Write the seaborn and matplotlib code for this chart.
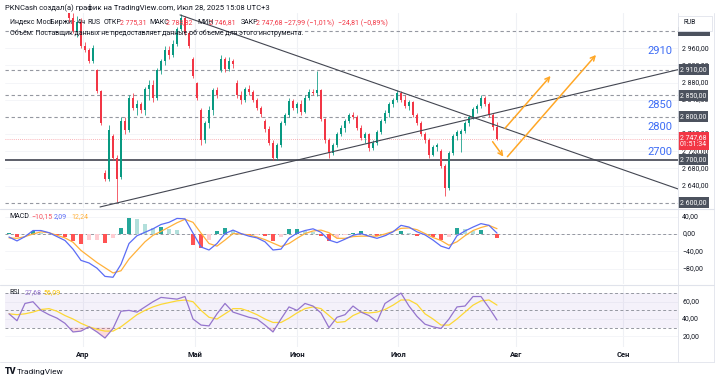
import matplotlib
matplotlib.use('Agg')
import matplotlib.pyplot as plt
import matplotlib.transforms as mtransforms
from matplotlib.patches import Rectangle
from matplotlib.lines import Line2D
import seaborn as sns
import numpy as np

# 4h candles of the MOEX index (visible part of the window)
opens = [3045, 3030, 3000, 3020, 2965, 2955, 2930, 2910, 2860, 2670,
         2655, 2755, 2705, 2660, 2790, 2770, 2845, 2820, 2830, 2815,
         2865, 2875, 2845, 2910, 2930, 2955, 2945, 2970, 3005, 3030,
         2995, 2935, 2880, 2815, 2745, 2785, 2815, 2862, 2910, 2935,
         2912, 2930, 2880, 2850, 2840, 2865, 2858, 2840, 2820, 2790,
         2772, 2740, 2705, 2735, 2785, 2805, 2838, 2820, 2830, 2812,
         2845, 2858, 2855, 2862, 2795, 2745, 2715, 2735, 2760, 2775,
         2790, 2805, 2800, 2775, 2750, 2760, 2728, 2740, 2765, 2790,
         2810, 2830, 2840, 2855, 2840, 2825, 2835, 2805, 2785, 2760,
         2745, 2712, 2730, 2720, 2685, 2635, 2715, 2755, 2760, 2768,
         2785, 2800, 2818, 2826, 2845, 2830, 2805, 2775.31]
highs = [3060, 3042, 3035, 3030, 2975, 2960, 2968, 2912, 2862, 2675,
         2780, 2760, 2712, 2800, 2800, 2850, 2855, 2840, 2835, 2870,
         2885, 2885, 2915, 2935, 2965, 2965, 2980, 3010, 3040, 3035,
         3000, 2940, 2882, 2820, 2790, 2825, 2868, 2870, 2945, 2940,
         2940, 2935, 2885, 2860, 2870, 2875, 2862, 2845, 2825, 2795,
         2778, 2745, 2740, 2790, 2810, 2845, 2842, 2835, 2840, 2850,
         2865, 2865, 2907, 2866, 2798, 2750, 2740, 2765, 2780, 2795,
         2810, 2812, 2805, 2780, 2765, 2762, 2745, 2770, 2795, 2815,
         2835, 2845, 2862, 2860, 2850, 2840, 2838, 2810, 2790, 2765,
         2750, 2735, 2740, 2725, 2690, 2720, 2760, 2770, 2772, 2790,
         2805, 2822, 2830, 2850, 2848, 2835, 2810, 2788.82]
lows = [3020, 2995, 2985, 2960, 2950, 2925, 2925, 2855, 2780, 2650,
        2650, 2700, 2602, 2655, 2760, 2765, 2815, 2805, 2810, 2805,
        2840, 2835, 2840, 2900, 2920, 2935, 2940, 2965, 3000, 2990,
        2960, 2890, 2840, 2735, 2740, 2775, 2805, 2845, 2905, 2905,
        2908, 2915, 2845, 2830, 2835, 2850, 2835, 2815, 2800, 2765,
        2735, 2700, 2700, 2730, 2780, 2800, 2815, 2808, 2805, 2808,
        2840, 2850, 2848, 2790, 2740, 2705, 2710, 2730, 2755, 2765,
        2785, 2795, 2770, 2745, 2740, 2720, 2722, 2735, 2760, 2785,
        2800, 2822, 2835, 2835, 2820, 2815, 2800, 2780, 2755, 2740,
        2705, 2708, 2720, 2680, 2616, 2630, 2710, 2745, 2718, 2762,
        2778, 2795, 2810, 2820, 2825, 2800, 2770, 2746.81]
closes = [3030, 3000, 3020, 2965, 2955, 2930, 2960, 2860, 2785, 2655,
          2770, 2705, 2655, 2790, 2770, 2845, 2820, 2830, 2815, 2865,
          2875, 2845, 2910, 2930, 2955, 2945, 2970, 3005, 3030, 2995,
          2965, 2895, 2845, 2745, 2785, 2815, 2862, 2850, 2935, 2912,
          2930, 2922, 2850, 2840, 2865, 2858, 2840, 2820, 2806, 2772,
          2740, 2705, 2735, 2785, 2805, 2838, 2820, 2830, 2812, 2845,
          2858, 2855, 2862, 2795, 2745, 2715, 2735, 2760, 2775, 2790,
          2805, 2800, 2775, 2750, 2760, 2728, 2740, 2765, 2790, 2810,
          2830, 2840, 2855, 2840, 2825, 2835, 2805, 2785, 2760, 2745,
          2712, 2730, 2735, 2685, 2635, 2715, 2755, 2765, 2768, 2785,
          2800, 2818, 2826, 2845, 2830, 2805, 2776, 2747.68]

# indicator readings, one every second bar (starting 15 bars before first candle)
macd_line = [-7, -16, -6, 8, 8, 3, -6, -15, -35, -61, -67, -79, -98, -100, -70,
             -22, -4, 4, 12, 22, 27, 36, 35, 2, -30, -37, -22, 1, 9, 1, -5, -9,
             -18, -37, -35, -10, 2, 8, 12, 4, -14, -20, -12, -3, 1, -5, -10, -4,
             5, 20, 16, 5, -2, -14, -28, -34, -4, 7, 16, 24, 20, 2.09]
signal_line = [-9, -10, -6, 0, 5, 3, -3, -9, -19, -38, -52, -66, -78, -90, -85,
               -58, -38, -18, -3, 6, 16, 26, 34, 27, 2, -22, -28, -14, 1, 0, -2,
               -7, -13, -21, -29, -22, -10, 1, 7, 9, 3, -10, -10, -6, -5, -5, -5,
               0, 6, 13, 14, 10, 1, -8, -15, -26, -18, -4, 8, 15, 20, 12.24]
rsi_line = [46, 38, 58, 60, 50, 45, 41, 35, 25, 26, 31, 25, 18, 29, 49, 50, 48,
            54, 60, 65, 64, 63, 66, 40, 33, 32, 46, 58, 48, 45, 42, 40, 33, 25,
            40, 54, 50, 58, 55, 47, 30, 42, 45, 55, 48, 44, 37, 58, 64, 70, 55,
            43, 34, 31, 29, 40, 54, 55, 66, 66, 53, 38.8]
rsi_ma = [46, 45, 46, 48, 51, 52, 49, 44, 40, 35, 31, 28, 26, 26, 31, 38, 45,
          50, 54, 57, 59, 61, 62, 60, 50, 42, 40, 46, 52, 52, 49, 45, 40, 36,
          36, 41, 47, 52, 54, 52, 44, 36, 37, 44, 48, 47, 48, 51, 56, 62, 62,
          57, 46, 40, 33, 33, 40, 48, 56, 61, 62, 56.09]

month_pos = [3.5, 31.5, 57, 82.25, 111.75, 138.5]
month_labels = ['Апр', 'Май', 'Июн', 'Июл', 'Авг', 'Сен']

dashed_levels = [3000, 2910, 2850, 2800, 2600]
boxed_levels = [2910, 2850, 2800, 2700, 2600]
price_ticks = [2640, 2680, 2720, 2760, 2840, 2880, 2920, 2960]
solid_level = 2700
last_price = 2747.68
level_notes = ['3000', '2910', '2850', '2800', '2700']
note_prices = [3051.5, 2954.3, 2827.7, 2777.2, 2718.9]

trend_down_x = [27.75, 152.25]
trend_down_y = [3037.5, 2632]
trend_up_x = [7.75, 152.25]
trend_up_y = [2590, 2910]
arrow_starts = [(105.9, 2742.2), (109.0, 2773.4), (109.6, 2707.2)]
arrow_ends = [(108.6, 2707.2), (120.4, 2895.3), (131.75, 2944.3)]

W, H = 720, 381
XLIM = (-16, 152.25)
FS = 5.0

sns.set_style('white')
plt.rcParams['font.family'] = ['Roboto', 'DejaVu Sans']

fig = plt.figure(figsize=(7.2, 3.81), dpi=100)
fig.patch.set_facecolor('white')


def pane(top, bottom):
    a = fig.add_axes([5 / W, 1 - bottom / H, 673 / W, (bottom - top) / H])
    a.set_xlim(*XLIM)
    a.set_xticks([])
    a.set_yticks([])
    for sp in a.spines.values():
        sp.set_visible(False)
    for p in month_pos:
        a.axvline(p, color='#eff1f5', lw=0.8, zorder=0)
    return a


def rus(v):
    s = f'{abs(v):,.2f}'.replace(',', ' ').replace('.', ',')
    return ('−' if v < 0 else '') + s


def right_labels(a, values):
    tr = mtransforms.blended_transform_factory(a.transAxes, a.transData)
    for v in values:
        a.axhline(v, color='#f3f4f7', lw=0.6, zorder=0)
        a.text(1.0065, v, rus(v), transform=tr, fontsize=FS, color='#131722',
               va='center', ha='left', clip_on=False, zorder=3)
    return tr


# ---------- main price pane ----------
ax = pane(13, 208)
ax.set_ylim(2587.6, 3042)
tr = right_labels(ax, price_ticks)

xs = np.arange(len(closes))
o, h, l, c = map(np.array, (opens, highs, lows, closes))
up = c >= o
cols = np.where(up, '#089981', '#f23645')
ax.vlines(xs, l, h, colors=cols, lw=0.55, zorder=3)
ax.bar(xs, np.maximum(np.abs(c - o), 1.0), bottom=np.minimum(o, c), width=0.55,
       color=cols, zorder=4, linewidth=0)

for lv in dashed_levels:
    ax.axhline(lv, color='#9598a1', lw=0.8, ls=(0, (3, 2.5)), zorder=2)
ax.axhline(solid_level, color='#50535e', lw=1.3, zorder=2)
ax.axhline(last_price, color='#f23645', lw=0.6, ls=(0, (1, 1.5)), alpha=0.5, zorder=1)

ax.plot(trend_down_x, trend_down_y, color='#434651', lw=0.8, zorder=5)
ax.plot(trend_up_x, trend_up_y, color='#434651', lw=0.8, zorder=5)

for s, e in zip(arrow_starts, arrow_ends):
    ax.annotate('', xy=e, xytext=s,
                arrowprops=dict(arrowstyle='->', color='#ffa726', lw=1.1,
                                mutation_scale=8, shrinkA=0, shrinkB=0),
                zorder=6)

for txt, pr in zip(level_notes, note_prices):
    ax.text(147.75, pr, txt, fontsize=8, color='#3d6cf5', ha='center',
            va='center', clip_on=True, zorder=6)

for lv in boxed_levels:
    ax.text(1.003, lv, rus(lv), transform=tr, fontsize=FS, color='white',
            va='center', ha='left', clip_on=False, zorder=7,
            bbox=dict(boxstyle='square,pad=0.3', fc='#4c525e', ec='none'))
ax.text(1.003, last_price - 4, rus(last_price) + '\n01:51:34', transform=tr,
        fontsize=FS, color='white', va='center', ha='left', clip_on=False,
        zorder=8, linespacing=1.05,
        bbox=dict(boxstyle='square,pad=0.3', fc='#f23645', ec='none'))
# the 3000 label box is mostly hidden under the currency box
fig.add_artist(Rectangle((678 / W, 1 - 35.5 / H), 32 / W, 9 / H, fc='#4c525e',
                         ec='none', transform=fig.transFigure, zorder=4))

# ---------- MACD pane ----------
ax_m = pane(209, 284)
ax_m.set_ylim(-115.6, 57.8)
right_labels(ax_m, [40, 0, -40, -80])
ind_x = np.arange(-15, 108, 2)
hist = np.array(macd_line) - np.array(signal_line)
prev = np.concatenate([[hist[0]], hist[:-1]])
hcols = np.where(hist >= 0,
                 np.where(hist >= prev, '#26a69a', '#b2dfdb'),
                 np.where(hist <= prev, '#ff5252', '#ffcdd2'))
ax_m.bar(ind_x, hist, width=1.1, color=hcols, linewidth=0, zorder=2)
ax_m.axhline(0, color='#9598a1', lw=0.7, ls=(0, (3, 2.5)), zorder=1)
sns.lineplot(x=ind_x, y=macd_line, ax=ax_m, color='#5b6cf5', lw=0.9, zorder=4)
sns.lineplot(x=ind_x, y=signal_line, ax=ax_m, color='#ffb13b', lw=0.9, zorder=3)
ax_m.set_xlabel('')
ax_m.set_ylabel('')
ax_m.set_xlim(*XLIM)
ax_m.set_ylim(-115.6, 57.8)

# ---------- RSI pane ----------
ax_r = pane(286, 347)
ax_r.set_ylim(7.6, 78.2)
right_labels(ax_r, [60, 40, 20])
ax_r.axhspan(30, 70, color='#7e57c2', alpha=0.08, lw=0, zorder=0)
for lv in (70, 50, 30):
    ax_r.axhline(lv, color='#9598a1', lw=0.7, ls=(0, (3, 2.5)), zorder=1)
rsi_arr = np.array(rsi_line, dtype=float)
ax_r.fill_between(ind_x, rsi_arr, 30, where=rsi_arr < 30, interpolate=True,
                  color='#f23645', alpha=0.18, lw=0, zorder=1)
sns.lineplot(x=ind_x, y=rsi_ma, ax=ax_r, color='#fdd835', lw=0.9, zorder=3)
sns.lineplot(x=ind_x, y=rsi_line, ax=ax_r, color='#9575cd', lw=0.9, zorder=4)
ax_r.set_xlabel('')
ax_r.set_ylabel('')
ax_r.set_xlim(*XLIM)
ax_r.set_ylim(7.6, 78.2)

trx = mtransforms.blended_transform_factory(ax_r.transData, ax_r.transAxes)
for p, lab in zip(month_pos, month_labels):
    ax_r.text(p, -0.13, lab, transform=trx, fontsize=5.4, color='#131722',
              ha='center', va='center', fontweight='bold', clip_on=False)

# ---------- frame lines ----------
for yy in (208.5, 285):
    fig.add_artist(Line2D([0, 714 / W], [1 - yy / H] * 2, color='#e0e3eb', lw=0.8))
fig.add_artist(Line2D([678 / W] * 2, [1 - 13 / H, 1 - 362 / H], color='#e0e3eb', lw=0.6))
fig.add_artist(Line2D([714 / W] * 2, [1 - 13 / H, 1 - 362 / H], color='#e0e3eb', lw=0.6))
fig.add_artist(Line2D([0, 714 / W], [1 - 362 / H] * 2, color='#e0e3eb', lw=0.6))

# RUB box in the corner of the price scale
fig.add_artist(Rectangle((678 / W, 1 - 31 / H), 34 / W, 15 / H, fc='white',
                         ec='#e0e3eb', lw=0.6, transform=fig.transFigure, zorder=5))
fig.text(684 / W, 1 - 23 / H, 'RUB', fontsize=4.8, color='#131722', va='center',
         zorder=6)


# ---------- texts ----------
def ftext(px, py, s, color='#131722', fs=FS, **kw):
    fig.text(px / W, 1 - py / H, s, fontsize=fs, color=color, va='center',
             ha='left', **kw)


ftext(5, 7, 'PKNCash создал(а) график на TradingView.com, Июл 28, 2025 15:08 UTC+3', fs=5.5)
red = '#f23645'
ftext(10, 23, 'Индекс МосБиржи · 4ч')
ftext(87, 23, 'RUS')
ftext(104, 23, 'ОТКР')
ftext(120, 23, '2 775,31', red)
ftext(149, 23, 'МАКС')
ftext(166, 23, '2 788,82', red)
ftext(197, 23, 'МИН')
ftext(209, 23, '2 746,81', red)
ftext(241, 23, 'ЗАКР')
ftext(256, 23, '2 747,68', red)
ftext(284, 23, '−27,99 (−1,01%)', red)
ftext(338, 23, '−24,81 (−0,89%)', red)
ftext(10, 33, 'Объём: Поставщик данных не предоставляет данные об объеме для этого инструмента.')

ftext(9, 217, 'MACD')
ftext(31, 217, '−10,15', '#f7525f')
ftext(54, 217, '2,09', '#5b6cf5')
ftext(71, 217, '12,24', '#ffb13b')

ftext(9, 293, 'RSI')
ftext(25, 293, '27,68', '#9575cd')
ftext(43, 293, '56,09', '#f9c200')

ftext(5, 372, 'TV', fs=6.5, fontweight='heavy')
ftext(17, 372, 'TradingView', fs=6)

fig.savefig('out.png', dpi=100, facecolor='white')
